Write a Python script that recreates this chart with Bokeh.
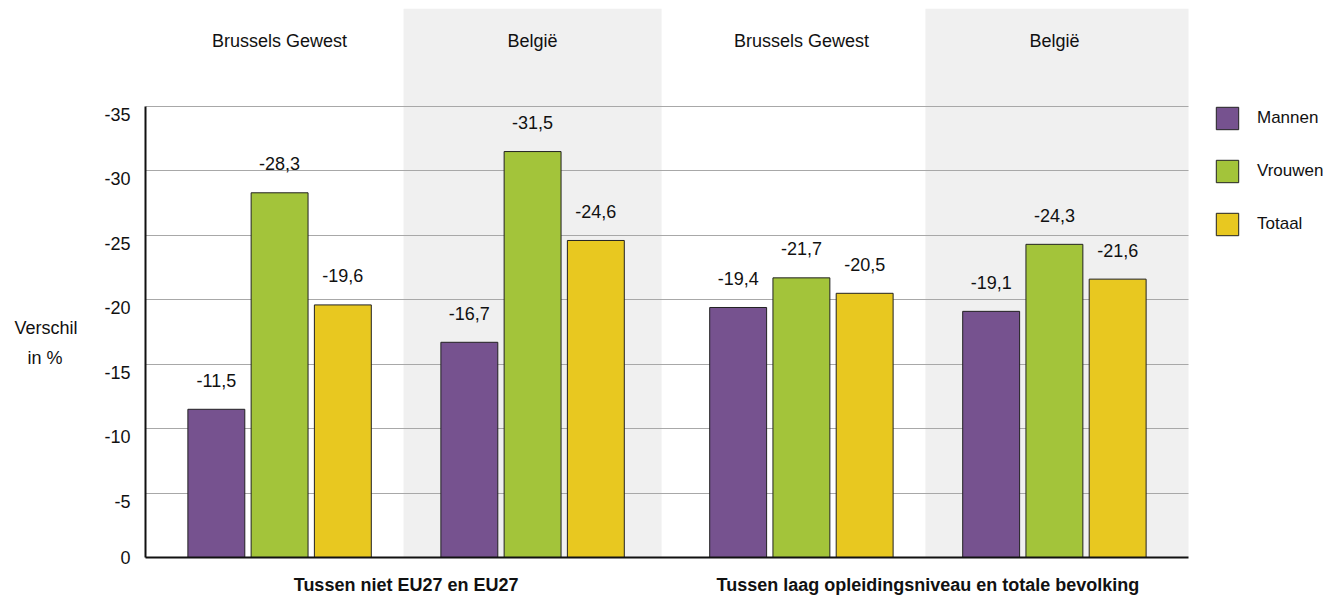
from bokeh.plotting import figure
from bokeh.models import Range1d, FixedTicker, Legend, LegendItem, ColumnDataSource, LinearAxis
from bokeh.core.properties import value
from bokeh.embed import file_html
from bokeh.resources import INLINE

# ---------------- data ----------------
supergroups = ["Tussen niet EU27 en EU27", "Tussen laag opleidingsniveau en totale bevolking"]
regions = ["Brussels Gewest", "België", "Brussels Gewest", "België"]
series = ["Mannen", "Vrouwen", "Totaal"]
mannen = [11.5, 16.7, 19.4, 19.1]
vrouwen = [28.3, 31.5, 21.7, 24.3]
totaal = [19.6, 24.6, 20.5, 21.6]
y_ticks = [0, 5, 10, 15, 20, 25, 30, 35]
y_tick_labels = ["0", "-5", "-10", "-15", "-20", "-25", "-30", "-35"]
y_title = ["Verschil", "in %"]

# ---------------- style ----------------
FONT = "Liberation Sans Narrow, Liberation Sans, sans-serif"
FS = "18px"
TXT = "#111111"
COLORS = ["#76528f", "#a3c43a", "#e8c820"]
SHADE = "#f0f0f0"
GRID = "#a8a8a8"

LEFT_BORDER = 145
PLOT_W = 1043          # width of the gridded area in px
FRAME_W = 1326 - LEFT_BORDER
FRAME_H = 549

EDGE = 1.12
GROUP_STEP = 4
SUPER_GAP = 0.25
BAR_W = 0.9
Y_END = 42.6
LABEL_SHIFT = 0.62  # tick labels sit a little below their gridline

centers = [EDGE + 1 + g * GROUP_STEP + SUPER_GAP * (g // 2) for g in range(len(regions))]
x_end = centers[-1] + 1 + EDGE
x_full = x_end * FRAME_W / PLOT_W
super_centers = [(centers[0] + centers[1]) / 2, (centers[2] + centers[3]) / 2]

p = figure(frame_width=FRAME_W, frame_height=FRAME_H, x_range=Range1d(0, x_full), y_range=Range1d(0, Y_END),
           output_backend="svg", toolbar_location=None,
           min_border_left=LEFT_BORDER, min_border_right=0, min_border_top=8, min_border_bottom=42)
p.outline_line_color = None
p.background_fill_color = "white"
p.border_fill_color = "white"
p.extra_y_ranges = {"lab": Range1d(LABEL_SHIFT, Y_END + LABEL_SHIFT)}

# shaded "België" panels
half = 2.04
shade_idx = [i for i, r in enumerate(regions) if r == "België"]
lefts = [centers[i] - half for i in shade_idx]
rights = [centers[i] + half for i in shade_idx]
rights[-1] = x_end
p.quad(left=lefts, right=rights, bottom=0, top=Y_END, fill_color=SHADE, line_color=None, level="image")

# bars
renderers = []
for s, vals in enumerate([mannen, vrouwen, totaal]):
    xs = [c + (s - 1) for c in centers]
    src = ColumnDataSource(dict(x=xs, top=vals,
                                lab=["-" + f"{v:.1f}".replace(".", ",") for v in vals]))
    r = p.vbar(x="x", top="top", width=BAR_W, source=src, fill_color=COLORS[s],
               line_color="#222222", line_width=1)
    renderers.append(r)
    p.text(x="x", y="top", text="lab", source=src, text_align="center", text_baseline="middle",
           y_offset=-29, text_font=value(FONT), text_font_size=FS, text_color=TXT)

# region labels
p.text(x=centers, y=[40.1] * len(centers), text=regions, text_align="center", text_baseline="middle",
       text_font=value(FONT), text_font_size=FS, text_color=TXT)

# main y axis: line only
p.yaxis.ticker = FixedTicker(ticks=[])
p.yaxis.bounds = (0, 35)
p.yaxis.axis_line_width = 2
p.yaxis.axis_line_color = TXT
p.yaxis.major_tick_line_color = None
p.yaxis.minor_tick_line_color = None
p.yaxis.major_tick_out = 0
p.yaxis.major_tick_in = 0
p.yaxis.minor_tick_out = 0
p.yaxis.major_label_standoff = 0

# label y axis (labels shifted slightly downward; the zero label stays at the range start)
lab_ticks = [t if t > 0 else LABEL_SHIFT for t in y_ticks]
lab_axis = LinearAxis(y_range_name="lab", ticker=FixedTicker(ticks=lab_ticks), bounds=(0, 35))
lab_axis.major_label_overrides = dict(zip(lab_ticks, y_tick_labels))
lab_axis.axis_line_color = None
lab_axis.major_tick_line_color = None
lab_axis.minor_tick_line_color = None
lab_axis.major_tick_out = 0
lab_axis.major_tick_in = 0
lab_axis.minor_tick_out = 0
lab_axis.major_label_standoff = 15
lab_axis.major_label_text_font = FONT
lab_axis.major_label_text_font_size = FS
lab_axis.major_label_text_color = TXT
# blank leading lines push the centred title down to where the reference has it
lab_axis.axis_label = "\n".join(["\u00a0"] * 4 + [y_title[0], y_title[1] + "\u00a0\u00a0\u00a0"])
lab_axis.axis_label_orientation = "horizontal"
lab_axis.axis_label_standoff = 24
lab_axis.axis_label_text_font = FONT
lab_axis.axis_label_text_font_size = FS
lab_axis.axis_label_text_line_height = 1.5
lab_axis.axis_label_text_font_style = "normal"
lab_axis.axis_label_text_color = TXT
p.add_layout(lab_axis, "left")

# x axis
p.xaxis.ticker = FixedTicker(ticks=super_centers)
p.xaxis.bounds = (0, x_end)
p.xaxis.major_label_overrides = dict(zip(super_centers, supergroups))
p.xaxis.axis_line_width = 2
p.xaxis.axis_line_color = TXT
p.xaxis.major_tick_line_color = None
p.xaxis.minor_tick_line_color = None
p.xaxis.major_tick_out = 0
p.xaxis.major_tick_in = 0
p.xaxis.minor_tick_out = 0
p.xaxis.axis_label_standoff = 0
p.xaxis.major_label_standoff = 17
p.xaxis.major_label_text_font = FONT
p.xaxis.major_label_text_font_size = FS
p.xaxis.major_label_text_font_style = "bold"
p.xaxis.major_label_text_color = TXT

# grid
p.xgrid.visible = False
p.ygrid.ticker = FixedTicker(ticks=y_ticks[1:])
p.ygrid.cross_bounds = (0, x_end)
p.ygrid.grid_line_color = GRID
p.ygrid.grid_line_width = 1

legend = Legend(items=[LegendItem(label=series[i], renderers=[renderers[i]]) for i in range(3)],
                location=(1068, 319), glyph_width=28, glyph_height=28, spacing=25, label_standoff=16,
                padding=0, margin=0, border_line_color=None, background_fill_alpha=0,
                label_text_font=FONT, label_text_font_size="17px", label_text_color=TXT)
p.add_layout(legend, "center")

open("out.html", "w").write(file_html(p, INLINE))
